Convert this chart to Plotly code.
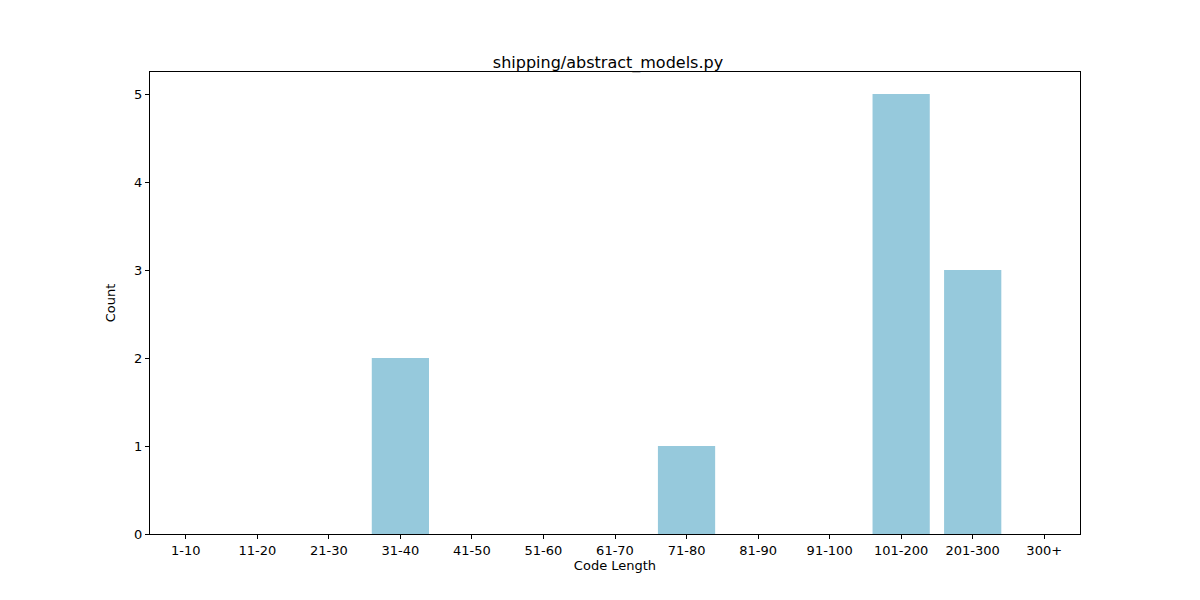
import plotly.graph_objects as go

categories = ["1-10", "11-20", "21-30", "31-40", "41-50", "51-60", "61-70",
              "71-80", "81-90", "91-100", "101-200", "201-300", "300+"]
counts = [0, 0, 0, 2, 0, 0, 0, 1, 0, 0, 5, 3, 0]

fig = go.Figure(go.Bar(x=categories, y=counts, marker_color="#96c9dc",
                       marker_line_width=0, width=0.8))

axis_style = dict(showline=True, linecolor="black", mirror=True, ticks="outside",
                  ticklen=4, tickcolor="black", showgrid=False, zeroline=False,
                  tickfont=dict(size=13))

fig.update_layout(
    width=1200, height=600,
    paper_bgcolor="white", plot_bgcolor="white",
    font=dict(family="DejaVu Sans", size=13, color="black"),
    title=dict(text="shipping/abstract_models.py", x=0.5, xanchor="center",
               y=0.9, yanchor="bottom", font=dict(size=16)),
    margin=dict(l=142, r=128, t=64, b=74),
    showlegend=False,
)
fig.update_xaxes(title_text="Code Length", title_standoff=4,
                 title_font=dict(size=13), range=[-0.5, 12.5], **axis_style)
fig.update_yaxes(title_text="Count", title_font=dict(size=13),
                 range=[0, 5.25], dtick=1, **axis_style)

fig.write_html("out.html")
